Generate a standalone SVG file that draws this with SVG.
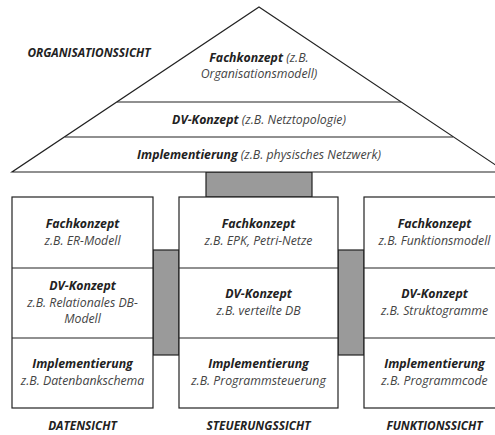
<svg xmlns="http://www.w3.org/2000/svg" width="495" height="435" viewBox="0 0 495 435">
  <style>
    .box { fill: #ffffff; stroke: #222222; stroke-width: 1.2; }
    .link { fill: #9a9a9a; stroke: #222222; stroke-width: 1.2; }
    .line { stroke: #222222; stroke-width: 1.2; fill: none; }
    text { font-family: "Open Sans", Lato, "Liberation Sans", sans-serif; font-style: italic; font-size: 12.3px; text-anchor: middle; }
    .b { font-weight: bold; fill: #222222; }
    .n { fill: #444444; }
    .h { font-size: 11.8px; }
  </style>
  <rect width="495" height="435" fill="#ffffff"/>

  <!-- connecting blocks between the views -->
  <g id="connectors">
    <rect class="link" x="206" y="172" width="106" height="25"/>
    <rect class="link" x="153" y="250" width="26" height="105"/>
    <rect class="link" x="338" y="250" width="26" height="105"/>
  </g>

  <!-- organisation view pyramid -->
  <g id="organisationssicht">
    <polygon class="box" points="259,7 506,172 12,172"/>
    <line class="line" x1="117" y1="102" x2="401" y2="102"/>
    <line class="line" x1="65" y1="137" x2="453" y2="137"/>
    <text class="b h" x="89" y="57">ORGANISATIONSSICHT</text>
    <text x="259" y="62"><tspan class="b">Fachkonzept</tspan><tspan class="n"> (z.B.</tspan></text>
    <text class="n" x="259" y="78">Organisationsmodell)</text>
    <text x="259" y="124"><tspan class="b">DV-Konzept</tspan><tspan class="n"> (z.B. Netztopologie)</tspan></text>
    <text x="259" y="159"><tspan class="b">Implementierung</tspan><tspan class="n"> (z.B. physisches Netzwerk)</tspan></text>
  </g>

  <!-- data view -->
  <g id="datensicht">
    <rect class="box" x="12" y="197" width="141" height="211"/>
    <line class="line" x1="12" y1="268" x2="153" y2="268"/>
    <line class="line" x1="12" y1="338" x2="153" y2="338"/>
    <text class="b" x="82.5" y="228">Fachkonzept</text>
    <text class="n" x="82.5" y="245">z.B. ER-Modell</text>
    <text class="b" x="82.5" y="290">DV-Konzept</text>
    <text class="n" x="82.5" y="307">z.B. Relationales DB-</text>
    <text class="n" x="82.5" y="323">Modell</text>
    <text class="b" x="82.5" y="368">Implementierung</text>
    <text class="n" x="82.5" y="385">z.B. Datenbankschema</text>
    <text class="b h" x="82.5" y="430">DATENSICHT</text>
  </g>

  <!-- control view -->
  <g id="steuerungssicht">
    <rect class="box" x="179" y="197" width="159" height="211"/>
    <line class="line" x1="179" y1="268" x2="338" y2="268"/>
    <line class="line" x1="179" y1="338" x2="338" y2="338"/>
    <text class="b" x="258.5" y="228">Fachkonzept</text>
    <text class="n" x="258.5" y="245">z.B. EPK, Petri-Netze</text>
    <text class="b" x="258.5" y="298">DV-Konzept</text>
    <text class="n" x="258.5" y="315">z.B. verteilte DB</text>
    <text class="b" x="258.5" y="368">Implementierung</text>
    <text class="n" x="258.5" y="385">z.B. Programmsteuerung</text>
    <text class="b h" x="258.5" y="430">STEUERUNGSSICHT</text>
  </g>

  <!-- function view -->
  <g id="funktionssicht">
    <rect class="box" x="364" y="197" width="141" height="211"/>
    <line class="line" x1="364" y1="268" x2="505" y2="268"/>
    <line class="line" x1="364" y1="338" x2="505" y2="338"/>
    <text class="b" x="434.5" y="228">Fachkonzept</text>
    <text class="n" x="434.5" y="245">z.B. Funktionsmodell</text>
    <text class="b" x="434.5" y="298">DV-Konzept</text>
    <text class="n" x="434.5" y="315">z.B. Struktogramme</text>
    <text class="b" x="434.5" y="368">Implementierung</text>
    <text class="n" x="434.5" y="385">z.B. Programmcode</text>
    <text class="b h" x="434.5" y="430">FUNKTIONSSICHT</text>
  </g>
</svg>
